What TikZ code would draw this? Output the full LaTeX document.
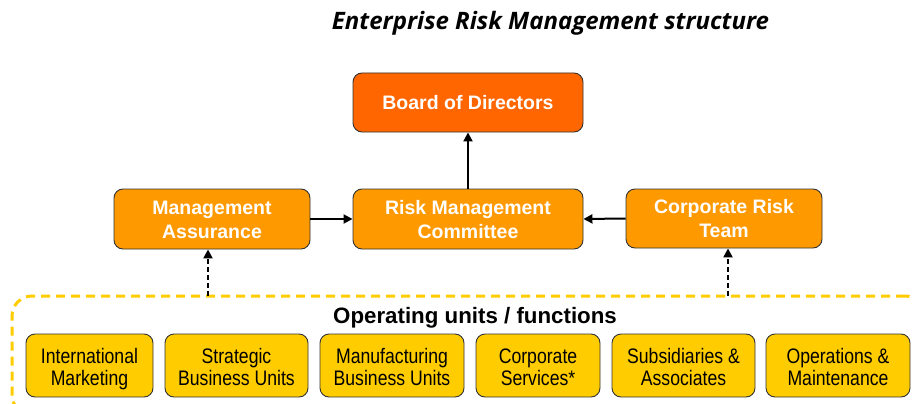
\documentclass[tikz,border=0pt]{standalone}
\usepackage{fontspec}
\setmainfont{Liberation Sans}
\newfontfamily\narrowfont[FakeStretch=0.84]{Liberation Sans}
\newfontfamily\titlefont{Open Sans}
\usetikzlibrary{arrows.meta}

\definecolor{boardorange}{HTML}{FF6600}
\definecolor{midorange}{HTML}{FF9900}
\definecolor{unityellow}{HTML}{FFCC00}
\definecolor{edgegray}{HTML}{333333}

\tikzset{
  box/.style={draw=edgegray, line width=0.9pt, rounded corners=9pt, inner sep=0pt,
    align=center, text=white, font=\bfseries\fontsize{19.5}{24}\selectfont},
  boardbox/.style={box, fill=boardorange, text height=17pt, text depth=2pt},
  midbox/.style={box, fill=midorange, text height=40pt, text depth=2pt},
  unitbox/.style={box, fill=unityellow, text=black, minimum height=63pt,
    font=\narrowfont\fontsize{21}{22}\selectfont, text height=41pt, text depth=2pt},
  unitsframe/.style={draw=unityellow, line width=3pt, dash pattern=on 9pt off 6pt,
    rounded corners=20pt, inner sep=0pt},
  link/.style={draw=black, line width=2pt, -{Triangle[width=9pt,length=9pt]}},
  feed/.style={draw=black, line width=2.4pt, dash pattern=on 5pt off 3pt,
    -{Triangle[width=9pt,length=9pt]}},
}

\begin{document}
\begin{tikzpicture}[x=1pt, y=-1pt]
  \useasboundingbox (0,0) rectangle (913,404);
  \begin{scope}
    \clip (0,0) rectangle (913,404);

    % title
    \node (title) at (550.5,23) {\titlefont\bfseries\itshape\fontsize{24}{28}\selectfont Enterprise Risk Management structure};

    % governance boxes
    \node[boardbox, minimum width=230pt, minimum height=59pt] (board) at (468,102.5) {Board of Directors};
    \node[midbox, minimum width=196pt, minimum height=60pt] (assure) at (212,219) {Management\\Assurance};
    \node[midbox, minimum width=230pt, minimum height=60pt] (rmc) at (468,219) {Risk Management\\Committee};
    \node[midbox, minimum width=196pt, minimum height=59pt] (crt) at (724,218.5) {Corporate Risk\\Team};

    % operating units frame
    \node[unitsframe, minimum width=913pt, minimum height=119pt] (units) at (468.5,355.5) {};
    \node[anchor=base, font=\bfseries\fontsize{22.3}{26}\selectfont] (unitslabel) at (475,323) {Operating units / functions};

    \node[unitbox, minimum width=127pt] (u1) at (89.5,365.5) {International\\Marketing};
    \node[unitbox, minimum width=143pt] (u2) at (236.5,365.5) {Strategic\\Business Units};
    \node[unitbox, minimum width=144pt] (u3) at (392,365.5) {Manufacturing\\Business Units};
    \node[unitbox, minimum width=124pt] (u4) at (538,365.5) {Corporate\\Services*};
    \node[unitbox, minimum width=143pt] (u5) at (683.5,365.5) {Subsidiaries \&\\Associates};
    \node[unitbox, minimum width=144pt] (u6) at (838,365.5) {Operations \&\\Maintenance};

    % reporting lines
    \draw[link] (rmc.north) -- (board.south);
    \draw[link] (assure.east) -- (rmc.west);
    \draw[link] (crt.west) -- (rmc.east);

    % feeds from the operating units
    \coordinate (feedA) at (208,296);
    \coordinate (feedB) at (728,296);
    \draw[feed] (feedA) -- (feedA |- assure.south);
    \draw[feed] (feedB) -- (feedB |- crt.south);
  \end{scope}
\end{tikzpicture}
\end{document}
